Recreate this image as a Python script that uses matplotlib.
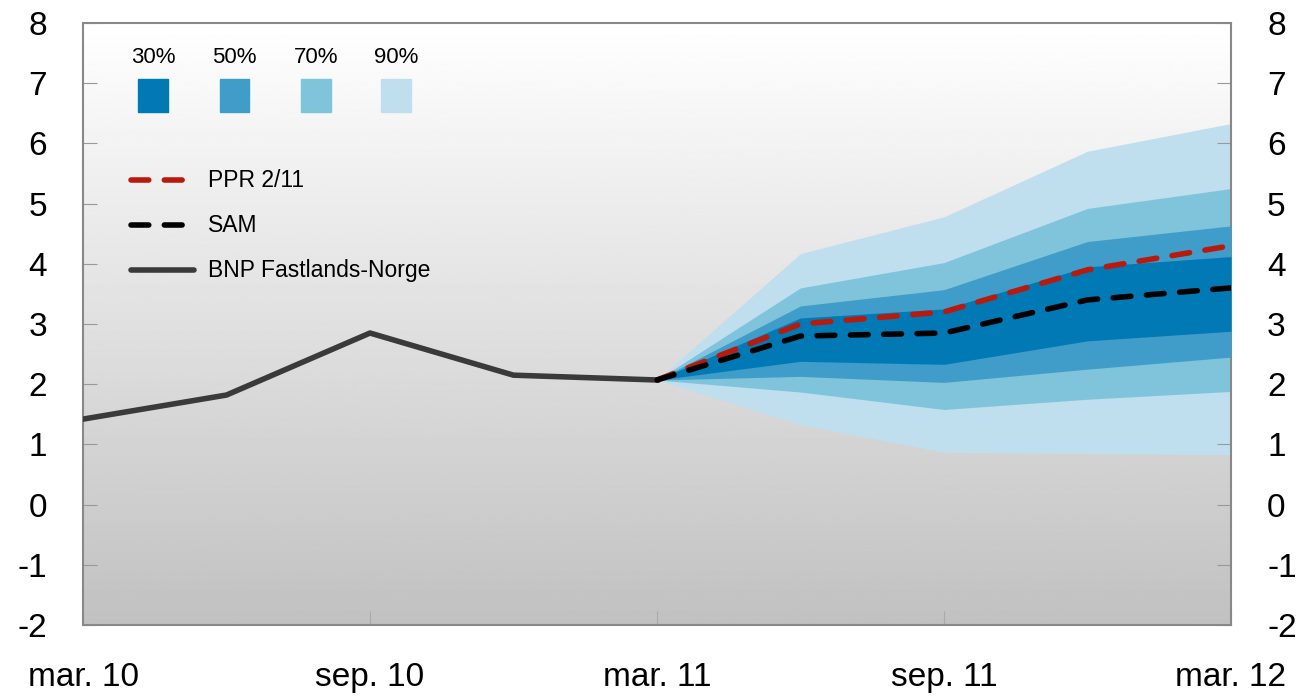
import numpy as np
import matplotlib.pyplot as plt
from matplotlib.patches import Rectangle
from matplotlib.lines import Line2D

plt.rcParams['font.family'] = ['Liberation Sans', 'DejaVu Sans']
plt.rcParams['axes.unicode_minus'] = False

# Data (quarters from mar. 10 to mar. 12)
quarters = np.arange(9)
xlabels = ['mar. 10', 'sep. 10', 'mar. 11', 'sep. 11', 'mar. 12']

bnp = [1.42, 1.82, 2.85, 2.15, 2.07]           # mar10..mar11
fq = [4, 5, 6, 7, 8]                           # forecast quarters
ppr = [2.07, 3.00, 3.20, 3.90, 4.30]
sam = [2.07, 2.80, 2.85, 3.40, 3.60]

lo90 = [2.07, 1.33, 0.87, 0.85, 0.83]
hi90 = [2.07, 4.17, 4.78, 5.87, 6.33]
lo70 = [2.07, 1.87, 1.58, 1.75, 1.88]
hi70 = [2.07, 3.60, 4.02, 4.92, 5.25]
lo50 = [2.07, 2.13, 2.03, 2.25, 2.45]
hi50 = [2.07, 3.30, 3.57, 4.37, 4.63]
lo30 = [2.07, 2.38, 2.33, 2.72, 2.88]
hi30 = [2.07, 3.10, 3.25, 3.95, 4.12]

c30, c50, c70, c90 = '#0079b5', '#409cc8', '#80c4db', '#c0dfee'
red = '#b81a0d'

fig = plt.figure(figsize=(13.03, 6.97), dpi=100)
ax = fig.add_axes([0.0637, 0.1033, 0.881, 0.8637])

# gradient background
grad = np.linspace(1, 0, 256).reshape(-1, 1)
ax.imshow(grad, extent=[0, 8, -2, 8], aspect='auto', cmap='gray',
          vmin=-3.1, vmax=1, origin='upper', zorder=0)

ax.fill_between(fq, lo90, hi90, color=c90, lw=0, zorder=1)
ax.fill_between(fq, lo70, hi70, color=c70, lw=0, zorder=2)
ax.fill_between(fq, lo50, hi50, color=c50, lw=0, zorder=3)
ax.fill_between(fq, lo30, hi30, color=c30, lw=0, zorder=4)

ax.plot(quarters[:5], bnp, color='#3a3a3a', lw=4, zorder=5)
ax.plot(fq, ppr, color=red, lw=4, dashes=(3.2, 2.8), zorder=6,
        dash_capstyle='round')
ax.plot(fq, sam, color='black', lw=4, dashes=(3.2, 2.8), zorder=7,
        dash_capstyle='round')

ax.set_xlim(0, 8)
ax.set_ylim(-2, 8)

for s in ax.spines.values():
    s.set_color('#888888')
    s.set_linewidth(1.5)

ax.set_yticks(range(-2, 9))
ax.tick_params(axis='y', direction='in', length=10, color='#999999',
               labelsize=24, left=True, right=True, labelleft=True,
               labelright=True, pad=26)
ax.set_xticks([0, 2, 4, 6, 8])
ax.set_xticklabels(xlabels)
ax.tick_params(axis='x', direction='in', length=10, color='#aaaaaa',
               labelsize=24, pad=27)

# legend: fan squares
tr = ax.transAxes
sq_x = [0.048, 0.119, 0.190, 0.260]
for x0, col, lab in zip(sq_x, [c30, c50, c70, c90], ['30%', '50%', '70%', '90%']):
    ax.add_patch(Rectangle((x0, 0.852), 0.026, 0.055, transform=tr,
                           color=col, zorder=8))
    ax.text(x0 + 0.013, 0.943, lab, transform=tr, ha='center', va='center',
            fontsize=16, zorder=8)

# legend: lines
items = [(0.739, red, (3.2, 2.8), 'PPR 2/11'),
         (0.664, 'black', (3.2, 2.8), 'SAM'),
         (0.589, '#3a3a3a', None, 'BNP Fastlands-Norge')]
for yy, col, ds, lab in items:
    ln = Line2D([0.042, 0.097], [yy, yy], transform=tr, color=col, lw=4,
                zorder=8, dash_capstyle='round', solid_capstyle='round')
    if ds:
        ln.set_dashes(ds)
    ax.add_line(ln)
    ax.text(0.109, yy, lab, transform=tr, va='center', fontsize=16.5, zorder=8)

fig.savefig('out.png', dpi=100)
